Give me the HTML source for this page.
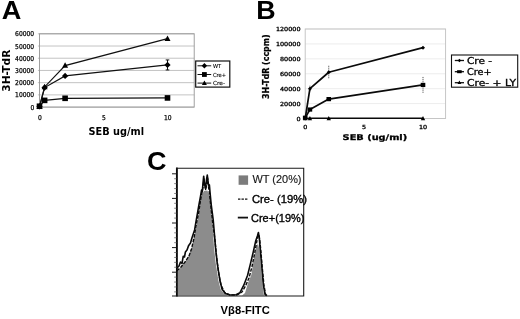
<!DOCTYPE html>
<html><head><meta charset="utf-8"><title>Figure</title>
<style>html,body{margin:0;padding:0;background:#fff}svg{display:block;filter:blur(0.35px)}text{font-family:"Liberation Sans","DejaVu Sans",sans-serif;fill:#000}.v{font-family:"DejaVu Sans","Liberation Sans",sans-serif}.b{font-weight:bold}</style>
</head><body>
<svg width="520" height="319" viewBox="0 0 520 319">
<rect width="520" height="319" fill="#fff"/>
<g id="panelA">
<text class="b" x="1.7" y="19" font-size="25" textLength="19.6" lengthAdjust="spacingAndGlyphs">A</text>
<line x1="37.9" y1="107.1" x2="194.2" y2="107.1" stroke="#b4b4b4" stroke-width="0.8"/>
<line x1="37.9" y1="94.88" x2="194.2" y2="94.88" stroke="#b4b4b4" stroke-width="0.8"/>
<line x1="37.9" y1="82.67" x2="194.2" y2="82.67" stroke="#b4b4b4" stroke-width="0.8"/>
<line x1="37.9" y1="70.45" x2="194.2" y2="70.45" stroke="#b4b4b4" stroke-width="0.8"/>
<line x1="37.9" y1="58.23" x2="194.2" y2="58.23" stroke="#b4b4b4" stroke-width="0.8"/>
<line x1="37.9" y1="46.02" x2="194.2" y2="46.02" stroke="#b4b4b4" stroke-width="0.8"/>
<line x1="37.9" y1="33.8" x2="194.2" y2="33.8" stroke="#b4b4b4" stroke-width="0.8"/>
<rect x="39.5" y="33.8" width="154.7" height="73.3" fill="none" stroke="#969696" stroke-width="0.9"/>
<text class="v" x="34.2" y="109.6" font-size="6.7" stroke="#000" stroke-width="0.25" text-anchor="end" textLength="3.82" lengthAdjust="spacingAndGlyphs">0</text>
<text class="v" x="34.2" y="97.38" font-size="6.7" stroke="#000" stroke-width="0.25" text-anchor="end" textLength="19.1" lengthAdjust="spacingAndGlyphs">10000</text>
<text class="v" x="34.2" y="85.17" font-size="6.7" stroke="#000" stroke-width="0.25" text-anchor="end" textLength="19.1" lengthAdjust="spacingAndGlyphs">20000</text>
<text class="v" x="34.2" y="72.95" font-size="6.7" stroke="#000" stroke-width="0.25" text-anchor="end" textLength="19.1" lengthAdjust="spacingAndGlyphs">30000</text>
<text class="v" x="34.2" y="60.73" font-size="6.7" stroke="#000" stroke-width="0.25" text-anchor="end" textLength="19.1" lengthAdjust="spacingAndGlyphs">40000</text>
<text class="v" x="34.2" y="48.52" font-size="6.7" stroke="#000" stroke-width="0.25" text-anchor="end" textLength="19.1" lengthAdjust="spacingAndGlyphs">50000</text>
<text class="v" x="34.2" y="36.3" font-size="6.7" stroke="#000" stroke-width="0.25" text-anchor="end" textLength="19.1" lengthAdjust="spacingAndGlyphs">60000</text>
<text class="v" x="39.8" y="119.7" font-size="6.7" stroke="#000" stroke-width="0.25" text-anchor="middle" textLength="3.82" lengthAdjust="spacingAndGlyphs">0</text>
<text class="v" x="103.8" y="119.7" font-size="6.7" stroke="#000" stroke-width="0.25" text-anchor="middle" textLength="3.82" lengthAdjust="spacingAndGlyphs">5</text>
<text class="v" x="167.8" y="119.7" font-size="6.7" stroke="#000" stroke-width="0.25" text-anchor="middle" textLength="7.64" lengthAdjust="spacingAndGlyphs">10</text>
<text class="v b" transform="translate(9.9 70.7) rotate(-90)" font-size="9.8" text-anchor="middle" textLength="42" lengthAdjust="spacingAndGlyphs">3H-TdR</text>
<text class="v b" x="116.3" y="134.8" font-size="9.6" text-anchor="middle" textLength="55.5" lengthAdjust="spacingAndGlyphs">SEB ug/ml</text>
<polyline points="39.5,106.49 44.62,87.55 65.1,75.95 167.5,64.95" fill="none" stroke="#111" stroke-width="1.2"/>
<polyline points="39.5,106.24 44.62,100.38 65.1,98.3 167.5,97.94" fill="none" stroke="#111" stroke-width="1.2"/>
<polyline points="39.5,106.73 44.62,86.94 65.1,65.56 167.5,38.69" fill="none" stroke="#111" stroke-width="1.2"/>
<path d="M167.5 59.95V69.95M165.7 59.95H169.3M165.7 69.95H169.3" stroke="#111" stroke-width="1" fill="none"/>
<path d="M39.5 103.39L42.6 106.49L39.5 109.59L36.4 106.49Z" fill="#000"/>
<path d="M44.62 84.45L47.72 87.55L44.62 90.65L41.52 87.55Z" fill="#000"/>
<path d="M65.1 72.85L68.2 75.95L65.1 79.05L62 75.95Z" fill="#000"/>
<path d="M167.5 61.85L170.6 64.95L167.5 68.05L164.4 64.95Z" fill="#000"/>
<rect x="36.7" y="103.44" width="5.6" height="5.6" fill="#000"/>
<rect x="41.82" y="97.58" width="5.6" height="5.6" fill="#000"/>
<rect x="62.3" y="95.5" width="5.6" height="5.6" fill="#000"/>
<rect x="164.7" y="95.14" width="5.6" height="5.6" fill="#000"/>
<path d="M39.5 103.43L42.5 108.98L36.5 108.98Z" fill="#000"/>
<path d="M44.62 83.64L47.62 89.19L41.62 89.19Z" fill="#000"/>
<path d="M65.1 62.26L68.1 67.81L62.1 67.81Z" fill="#000"/>
<path d="M167.5 35.39L170.5 40.94L164.5 40.94Z" fill="#000"/>
<rect x="195.7" y="61" width="34.1" height="26.1" fill="#fff" stroke="#111" stroke-width="1.2"/>
<line x1="197.5" y1="65.8" x2="211.2" y2="65.8" stroke="#111" stroke-width="1"/>
<path d="M204.4 63.1L207.1 65.8L204.4 68.5L201.7 65.8Z" fill="#000"/>
<text class="v" x="213" y="67.8" font-size="5.5" fill="#111" stroke="#111" stroke-width="0.12" textLength="8.2" lengthAdjust="spacingAndGlyphs">WT</text>
<line x1="197.5" y1="74.5" x2="211.2" y2="74.5" stroke="#111" stroke-width="1"/>
<rect x="202" y="72.1" width="4.8" height="4.8" fill="#000"/>
<text class="v" x="213" y="76.5" font-size="5.5" fill="#111" stroke="#111" stroke-width="0.12" textLength="13" lengthAdjust="spacingAndGlyphs">Cre+</text>
<line x1="197.5" y1="83.1" x2="211.2" y2="83.1" stroke="#111" stroke-width="1"/>
<path d="M204.4 80.4L206.9 85.02L201.9 85.02Z" fill="#000"/>
<text class="v" x="213" y="85.1" font-size="5.5" fill="#111" stroke="#111" stroke-width="0.12" textLength="12" lengthAdjust="spacingAndGlyphs">Cre-</text>
</g>
<g id="panelB">
<text class="b" x="256.3" y="19.1" font-size="25" textLength="19.4" lengthAdjust="spacingAndGlyphs">B</text>
<line x1="305.2" y1="118.5" x2="445.6" y2="118.5" stroke="#e8e8e8" stroke-width="0.8"/>
<line x1="305.2" y1="103.58" x2="445.6" y2="103.58" stroke="#e8e8e8" stroke-width="0.8"/>
<line x1="305.2" y1="88.67" x2="445.6" y2="88.67" stroke="#e8e8e8" stroke-width="0.8"/>
<line x1="305.2" y1="73.75" x2="445.6" y2="73.75" stroke="#e8e8e8" stroke-width="0.8"/>
<line x1="305.2" y1="58.83" x2="445.6" y2="58.83" stroke="#e8e8e8" stroke-width="0.8"/>
<line x1="305.2" y1="43.92" x2="445.6" y2="43.92" stroke="#e8e8e8" stroke-width="0.8"/>
<line x1="305.2" y1="29" x2="445.6" y2="29" stroke="#e8e8e8" stroke-width="0.8"/>
<rect x="305.2" y="29" width="140.4" height="89.5" fill="none" stroke="#c0c0c0" stroke-width="0.9"/>
<text class="v" x="300.5" y="120.5" font-size="5.6" stroke="#000" stroke-width="0.3" text-anchor="end" textLength="4.1" lengthAdjust="spacingAndGlyphs">0</text>
<text class="v" x="300.5" y="105.58" font-size="5.6" stroke="#000" stroke-width="0.3" text-anchor="end" textLength="20.5" lengthAdjust="spacingAndGlyphs">20000</text>
<text class="v" x="300.5" y="90.67" font-size="5.6" stroke="#000" stroke-width="0.3" text-anchor="end" textLength="20.5" lengthAdjust="spacingAndGlyphs">40000</text>
<text class="v" x="300.5" y="75.75" font-size="5.6" stroke="#000" stroke-width="0.3" text-anchor="end" textLength="20.5" lengthAdjust="spacingAndGlyphs">60000</text>
<text class="v" x="300.5" y="60.83" font-size="5.6" stroke="#000" stroke-width="0.3" text-anchor="end" textLength="20.5" lengthAdjust="spacingAndGlyphs">80000</text>
<text class="v" x="300.5" y="45.92" font-size="5.6" stroke="#000" stroke-width="0.3" text-anchor="end" textLength="24.6" lengthAdjust="spacingAndGlyphs">100000</text>
<text class="v" x="300.5" y="31" font-size="5.6" stroke="#000" stroke-width="0.3" text-anchor="end" textLength="24.6" lengthAdjust="spacingAndGlyphs">120000</text>
<text class="v" x="305.2" y="128.9" font-size="5.6" stroke="#000" stroke-width="0.3" text-anchor="middle" textLength="4.1" lengthAdjust="spacingAndGlyphs">0</text>
<text class="v" x="364.1" y="128.9" font-size="5.6" stroke="#000" stroke-width="0.3" text-anchor="middle" textLength="4.1" lengthAdjust="spacingAndGlyphs">5</text>
<text class="v" x="423" y="128.9" font-size="5.6" stroke="#000" stroke-width="0.3" text-anchor="middle" textLength="8.2" lengthAdjust="spacingAndGlyphs">10</text>
<text class="v b" transform="translate(268.8 66.7) rotate(-90)" font-size="8.6" stroke="#000" stroke-width="0.25" text-anchor="middle" textLength="64.5" lengthAdjust="spacingAndGlyphs">3H-TdR (ccpm)</text>
<text class="v b" x="374.9" y="140.4" font-size="7.8" stroke="#000" stroke-width="0.3" text-anchor="middle" textLength="64.6" lengthAdjust="spacingAndGlyphs">SEB (ug/ml)</text>
<line x1="328.76" y1="65.76" x2="328.76" y2="78.76" stroke="#555" stroke-width="1" stroke-dasharray="1.1 0.8"/>
<line x1="423" y1="76.94" x2="423" y2="92.94" stroke="#555" stroke-width="1" stroke-dasharray="1.1 0.8"/>
<line x1="309.91" y1="85.67" x2="309.91" y2="91.67" stroke="#555" stroke-width="1" stroke-dasharray="1.1 0.8"/>
<line x1="328.76" y1="97.61" x2="328.76" y2="100.61" stroke="#555" stroke-width="1" stroke-dasharray="1.1 0.8"/>
<polyline points="305.2,118.5 309.91,88.67 328.76,72.26 423,47.65" fill="none" stroke="#0a0a0a" stroke-width="1.7" stroke-linejoin="round"/>
<polyline points="305.2,117.75 309.91,109.55 328.76,99.11 423,84.94" fill="none" stroke="#0a0a0a" stroke-width="1.7" stroke-linejoin="round"/>
<polyline points="305.2,118.5 309.91,118.28 328.76,118.28 423,118.28" fill="none" stroke="#0a0a0a" stroke-width="1.6" stroke-linejoin="round"/>
<path d="M305.2 116.5L307.2 118.5L305.2 120.5L303.2 118.5Z" fill="#000"/>
<path d="M309.91 86.67L311.91 88.67L309.91 90.67L307.91 88.67Z" fill="#000"/>
<path d="M328.76 70.26L330.76 72.26L328.76 74.26L326.76 72.26Z" fill="#000"/>
<path d="M423 45.65L425 47.65L423 49.65L421 47.65Z" fill="#000"/>
<rect x="302.9" y="115.65" width="4.6" height="4.2" fill="#000"/>
<rect x="307.61" y="107.45" width="4.6" height="4.2" fill="#000"/>
<rect x="326.46" y="97.01" width="4.6" height="4.2" fill="#000"/>
<rect x="420.7" y="82.84" width="4.6" height="4.2" fill="#000"/>
<path d="M305.2 116.3L307.4 120.37L303 120.37Z" fill="#000"/>
<path d="M309.91 116.08L312.11 120.15L307.71 120.15Z" fill="#000"/>
<path d="M328.76 116.08L330.96 120.15L326.56 120.15Z" fill="#000"/>
<path d="M423 116.08L425.2 120.15L420.8 120.15Z" fill="#000"/>
<rect x="451.5" y="55" width="66.2" height="32.2" fill="#fff" stroke="#111" stroke-width="1.1"/>
<line x1="454.8" y1="60.5" x2="464" y2="60.5" stroke="#111" stroke-width="1.3"/>
<path d="M459.4 58.8L461.1 60.5L459.4 62.2L457.7 60.5Z" fill="#000"/>
<text class="v" x="467" y="63.9" font-size="8.4" stroke="#000" stroke-width="0.3" textLength="25" lengthAdjust="spacingAndGlyphs">Cre -</text>
<line x1="454.8" y1="71.7" x2="464" y2="71.7" stroke="#111" stroke-width="1.3"/>
<rect x="457.1" y="70.2" width="4.6" height="3" fill="#000"/>
<text class="v" x="467" y="75.1" font-size="8.4" stroke="#000" stroke-width="0.3" textLength="24.5" lengthAdjust="spacingAndGlyphs">Cre+</text>
<line x1="454.8" y1="82.7" x2="464" y2="82.7" stroke="#111" stroke-width="1.3"/>
<path d="M459.4 80.5L461.3 84.02L457.5 84.02Z" fill="#000"/>
<text class="v" x="467" y="86.1" font-size="8.4" stroke="#000" stroke-width="0.3" textLength="49" lengthAdjust="spacingAndGlyphs">Cre- + LY</text>
</g>
<g id="panelC">
<text class="b" x="147" y="170.2" font-size="25" textLength="19.5" lengthAdjust="spacingAndGlyphs">C</text>
<polygon points="177.8,295.6 177.8,271.7 183,264 187.6,258.5 192,246.5 195.9,230 198,218 200.3,202 202.3,194 204,191 207.3,190.5 209,194 210.2,201 211.6,215 213,230 214,247.6 215.7,263 218.4,280.5 220.6,289.3 224,293.6 228,295.6" fill="#8c8c8c"/>
<polygon points="242,295.6 245,293 248,283 251.3,275 254.6,255 256.5,246 258,243.8 259.5,250 261,267 262.5,285 264,295.6" fill="#8c8c8c"/>
<polyline points="177,268 179,266 180.5,262 182,263.5 183.2,256.3 184.5,257 185.4,252 187,250 188.7,245.4 190.5,243 192,237.7 194.6,230 196.3,219.9 199,204.5 200.5,196.5 201.6,190 202.3,191.5 203,183 203.7,176.2 204.5,184 205.5,188 206.5,180 207.3,175 208,181 208.7,186 209.4,185 210,192 211.2,204.5 213.2,219.9 214.5,235 215.5,247.6 217.2,263 219.9,280.5 222.1,289.3 225.4,293.6 230,295 236,294.8 240,292.7 243.8,285.2 247.6,275.2 250.1,265.1 253.1,252.6 255.6,241.3 257.4,236 258.4,232.5 259.3,238 260.1,247.6 261.9,267.6 263.4,285.2 265.1,294.7 267,295.6" fill="none" stroke="#0a0a0a" stroke-width="1.6" stroke-linejoin="round"/>
<polyline points="177,271 181,267 185,262 189,256 191.5,249 194,238 196,226 198.6,213 200.4,201 202,192.5 203.2,186 204,179 204.8,186 205.8,190 206.8,183 207.6,178 208.4,186 209.4,193 210.8,206 212.6,222 215,240 216.5,256 218.5,272 221,285 224.5,292.5 230,295 237,295 242,292 245.5,286 249,278 252,266.5 254.5,254 256.7,242 258,235 259.2,236 260.6,248 262.3,268 263.9,285 265.6,294.5 267.5,295.6" fill="none" stroke="#0a0a0a" stroke-width="1.4" stroke-dasharray="3.4 1.4" stroke-linejoin="round"/>
<path d="M176.9 167.6V296.5" stroke="#0a0a0a" stroke-width="1.9" fill="none"/>
<path d="M176 168.2H303.7V296H172" stroke="#1a1a1a" stroke-width="1.1" fill="none"/>
<line x1="172" y1="173.8" x2="176.5" y2="173.8" stroke="#1a1a1a" stroke-width="1"/>
<line x1="174.2" y1="178.72" x2="176.5" y2="178.72" stroke="#666" stroke-width="0.8"/>
<line x1="174.2" y1="183.64" x2="176.5" y2="183.64" stroke="#666" stroke-width="0.8"/>
<line x1="174.2" y1="188.56" x2="176.5" y2="188.56" stroke="#666" stroke-width="0.8"/>
<line x1="174.2" y1="193.48" x2="176.5" y2="193.48" stroke="#666" stroke-width="0.8"/>
<line x1="172" y1="198.4" x2="176.5" y2="198.4" stroke="#1a1a1a" stroke-width="1"/>
<line x1="174.2" y1="203.32" x2="176.5" y2="203.32" stroke="#666" stroke-width="0.8"/>
<line x1="174.2" y1="208.24" x2="176.5" y2="208.24" stroke="#666" stroke-width="0.8"/>
<line x1="174.2" y1="213.16" x2="176.5" y2="213.16" stroke="#666" stroke-width="0.8"/>
<line x1="174.2" y1="218.08" x2="176.5" y2="218.08" stroke="#666" stroke-width="0.8"/>
<line x1="172" y1="223" x2="176.5" y2="223" stroke="#1a1a1a" stroke-width="1"/>
<line x1="174.2" y1="227.92" x2="176.5" y2="227.92" stroke="#666" stroke-width="0.8"/>
<line x1="174.2" y1="232.84" x2="176.5" y2="232.84" stroke="#666" stroke-width="0.8"/>
<line x1="174.2" y1="237.76" x2="176.5" y2="237.76" stroke="#666" stroke-width="0.8"/>
<line x1="174.2" y1="242.68" x2="176.5" y2="242.68" stroke="#666" stroke-width="0.8"/>
<line x1="172" y1="247.6" x2="176.5" y2="247.6" stroke="#1a1a1a" stroke-width="1"/>
<line x1="174.2" y1="252.52" x2="176.5" y2="252.52" stroke="#666" stroke-width="0.8"/>
<line x1="174.2" y1="257.44" x2="176.5" y2="257.44" stroke="#666" stroke-width="0.8"/>
<line x1="174.2" y1="262.36" x2="176.5" y2="262.36" stroke="#666" stroke-width="0.8"/>
<line x1="174.2" y1="267.28" x2="176.5" y2="267.28" stroke="#666" stroke-width="0.8"/>
<line x1="172" y1="272.2" x2="176.5" y2="272.2" stroke="#1a1a1a" stroke-width="1"/>
<line x1="174.2" y1="277.12" x2="176.5" y2="277.12" stroke="#666" stroke-width="0.8"/>
<line x1="174.2" y1="282.04" x2="176.5" y2="282.04" stroke="#666" stroke-width="0.8"/>
<line x1="174.2" y1="286.96" x2="176.5" y2="286.96" stroke="#666" stroke-width="0.8"/>
<line x1="174.2" y1="291.88" x2="176.5" y2="291.88" stroke="#666" stroke-width="0.8"/>
<rect x="238.6" y="175.4" width="9.5" height="9.4" fill="#7c7c7c"/>
<text x="252.5" y="183.4" font-size="10.9" fill="#666" stroke="#666" stroke-width="0.2" textLength="49" lengthAdjust="spacingAndGlyphs">WT (20%)</text>
<line x1="238" y1="199.2" x2="247.4" y2="199.2" stroke="#111" stroke-width="1.3" stroke-dasharray="2.4 1.1"/>
<text x="252" y="202.6" font-size="10.9" stroke="#000" stroke-width="0.35" textLength="55" lengthAdjust="spacingAndGlyphs">Cre- (19%)</text>
<line x1="237.8" y1="217.6" x2="248" y2="217.6" stroke="#111" stroke-width="1.8"/>
<text x="251" y="221.8" font-size="10.9" stroke="#000" stroke-width="0.35" textLength="53.5" lengthAdjust="spacingAndGlyphs">Cre+(19%)</text>
<text class="b" x="220.6" y="313.9" font-size="10.4" textLength="49.2" lengthAdjust="spacingAndGlyphs">Vβ8-FITC</text>
</g>
</svg></body></html>
